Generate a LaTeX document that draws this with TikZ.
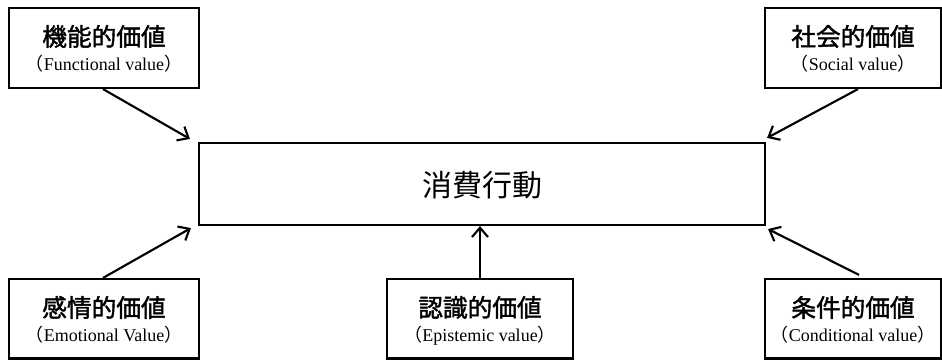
\documentclass[tikz,border=0pt]{standalone}
\usepackage{fontspec}
\setmainfont{Liberation Serif}
\newfontfamily\jp{Noto Sans CJK JP}
\newfontfamily\jpb{Noto Sans CJK JP}[FakeBold=1.6]
\usetikzlibrary{arrows.meta,calc,fit}
\tikzset{
  box/.style={draw=black, line width=1.6pt, inner sep=0pt, rectangle},
  ttl/.style={font=\jpb\fontsize{18.5}{20}\selectfont, inner sep=0pt, anchor=center},
  big/.style={font=\jp\fontsize{22.5}{24}\selectfont, inner sep=0pt, anchor=center},
  sub/.style={font=\fontsize{13.5}{15}\selectfont, inner sep=0pt, anchor=base},
  conn/.style={line width=1.6pt, -{Straight Barb[length=7pt,width=12pt,line width=1.6pt]}}
}
\newcommand{\jpp}[1]{{\jp （}#1{\jp ）}}
\begin{document}
\begin{tikzpicture}[x=0.75pt,y=-0.75pt]
\useasboundingbox (0,0) rectangle (942,361);
% boxes
\node[box, fit={(9,8) (199,88)}] (tl) {};
\node[box, fit={(765,8) (941,88)}] (tr) {};
\node[box, fit={(9,279) (199,358.5)}] (bl) {};
\node[box, fit={(387,279) (573,358.5)}] (bm) {};
\node[box, fit={(765,279) (941,358.5)}] (br) {};
\node[box, fit={(199,143) (765,225)}] (c) {};
% texts
\node[big] (ct) at ($(c.center)+(0,1)$) {消費行動};
\node[ttl] (tlt) at ($(tl.north)+(0,29.5)$) {機能的価値};
\node[sub] (tls) at ($(tl.north)+(0,64)$) {\jpp{Functional value}};
\node[ttl] (trt) at ($(tr.north)+(0,29.5)$) {社会的価値};
\node[sub] (trs) at ($(tr.north)+(0,64)$) {\jpp{Social value}};
\node[ttl] (blt) at ($(bl.north)+(0,29.5)$) {感情的価値};
\node[sub] (bls) at ($(bl.north)+(0,64)$) {\jpp{Emotional Value}};
\node[ttl] (bmt) at ($(bm.north)+(0,29.5)$) {認識的価値};
\node[sub] (bms) at ($(bm.north)+(0,64)$) {\jpp{Epistemic value}};
\node[ttl] (brt) at ($(br.north)+(0,29.5)$) {条件的価値};
\node[sub] (brs) at ($(br.north)+(0,64)$) {\jpp{Conditional value}};
% arrow ends
\coordinate (etl) at ($(c.north west)+(-8,-3)$);
\coordinate (etr) at ($(c.north east)+(1,-4)$);
\coordinate (ebl) at ($(c.south west)+(-7,2)$);
\coordinate (ebr) at ($(c.south east)+(2,3)$);
\coordinate (stl) at ($(tl.south)+(-1,0)$);
\coordinate (str) at ($(tr.south)+(5,0)$);
\coordinate (sbl) at ($(bl.north)+(-1,0)$);
\coordinate (sbr) at ($(br.north)+(6,-3)$);
\draw[conn] (stl) -- (etl);
\draw[conn] (str) -- (etr);
\draw[conn] (sbl) -- (ebl);
\draw[conn] (sbr) -- (ebr);
\draw[conn] (bm.north) -- (bm.north |- c.south);
\end{tikzpicture}
\end{document}
